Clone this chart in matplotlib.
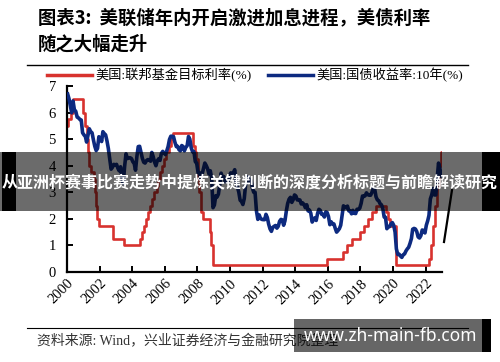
import pandas as pd
import matplotlib.pyplot as plt
import matplotlib.dates as mdates
from matplotlib.patches import Rectangle
from matplotlib.lines import Line2D

plt.rcParams['font.family'] = ['Liberation Serif', 'Noto Sans CJK SC', 'DejaVu Sans']

title_text = "图表3:  美联储年内开启激进加息进程，美债利率\n随之大幅走升"
source_text = "资料来源: Wind，兴业证券经济与金融研究院整理"
banner_text = "从亚洲杯赛事比赛走势中提炼关键判断的深度分析标题与前瞻解读研究"
mark_text = "www.zh-main-fb.com"
fed_label = "美国:联邦基金目标利率(%)"
bond_label = "美国:国债收益率:10年(%)"

# fed funds target rate (upper bound), change dates
fed_dates = ['2000-01-01', '2000-02-02', '2000-03-21', '2000-05-16', '2001-01-03', '2001-01-31',
             '2001-03-20', '2001-04-18', '2001-05-15', '2001-06-27', '2001-08-21', '2001-09-17',
             '2001-10-02', '2001-11-06', '2001-12-11', '2002-11-06', '2003-06-25', '2004-06-30',
             '2004-08-10', '2004-09-21', '2004-11-10', '2004-12-14', '2005-02-02', '2005-03-22',
             '2005-05-03', '2005-06-30', '2005-08-09', '2005-09-20', '2005-11-01', '2005-12-13',
             '2006-01-31', '2006-03-28', '2006-05-10', '2006-06-29', '2007-09-18', '2007-10-31',
             '2007-12-11', '2008-01-22', '2008-01-30', '2008-03-18', '2008-04-30', '2008-10-08',
             '2008-10-29', '2008-12-16', '2015-12-16', '2016-12-14', '2017-03-15', '2017-06-14',
             '2017-12-13', '2018-03-21', '2018-06-13', '2018-09-26', '2018-12-19', '2019-07-31',
             '2019-09-18', '2019-10-30', '2020-03-03', '2020-03-15', '2022-03-16', '2022-05-04',
             '2022-06-15', '2022-07-27', '2022-09-21', '2022-11-02', '2022-12-14', '2022-12-31']
fed_rate = [5.5, 5.75, 6.0, 6.5, 6.0, 5.5,
            5.0, 4.5, 4.0, 3.75, 3.5, 3.0,
            2.5, 2.0, 1.75, 1.25, 1.0, 1.25,
            1.5, 1.75, 2.0, 2.25, 2.5, 2.75,
            3.0, 3.25, 3.5, 3.75, 4.0, 4.25,
            4.5, 4.75, 5.0, 5.25, 4.75, 4.5,
            4.25, 3.5, 3.0, 2.25, 2.0, 1.5,
            1.0, 0.25, 0.5, 0.75, 1.0, 1.25,
            1.5, 1.75, 2.0, 2.25, 2.5, 2.25,
            2.0, 1.75, 1.25, 0.25, 0.5, 1.0,
            1.75, 2.5, 3.25, 4.0, 4.5, 4.5]

# 10y treasury yield, monthly, 2000-01 .. 2022-12
bond_yield = [
    6.70, 6.52, 6.26, 5.99, 6.44, 6.10, 6.05, 5.83, 5.80, 5.74, 5.72, 5.24,
    5.16, 5.10, 4.89, 5.14, 5.39, 5.28, 5.24, 4.97, 4.73, 4.57, 4.65, 5.09,
    5.04, 4.91, 5.28, 5.21, 5.16, 4.93, 4.65, 4.26, 3.87, 3.94, 4.05, 4.03,
    4.05, 3.90, 3.81, 3.96, 3.57, 3.33, 3.98, 4.45, 4.27, 4.29, 4.30, 4.27,
    4.15, 4.08, 3.83, 4.35, 4.72, 4.73, 4.50, 4.28, 4.13, 4.10, 4.19, 4.23,
    4.22, 4.17, 4.50, 4.34, 4.14, 4.00, 4.18, 4.26, 4.20, 4.46, 4.54, 4.47,
    4.42, 4.57, 4.72, 4.99, 5.11, 5.11, 5.09, 4.88, 4.72, 4.73, 4.60, 4.56,
    4.76, 4.72, 4.56, 4.69, 4.75, 5.10, 5.00, 4.67, 4.52, 4.53, 4.15, 4.10,
    3.74, 3.74, 3.51, 3.68, 3.88, 4.10, 4.01, 3.89, 3.69, 3.81, 3.53, 2.42,
    2.52, 2.87, 2.82, 2.93, 3.29, 3.72, 3.56, 3.59, 3.40, 3.39, 3.40, 3.59,
    3.73, 3.69, 3.73, 3.85, 3.42, 3.20, 3.01, 2.70, 2.65, 2.54, 2.76, 3.29,
    3.39, 3.58, 3.41, 3.46, 3.17, 3.00, 3.00, 2.30, 1.98, 2.15, 2.01, 1.98,
    1.97, 1.97, 2.17, 2.05, 1.80, 1.62, 1.53, 1.68, 1.72, 1.75, 1.65, 1.72,
    1.91, 1.98, 1.96, 1.76, 1.93, 2.30, 2.58, 2.74, 2.81, 2.62, 2.72, 2.90,
    2.86, 2.71, 2.72, 2.71, 2.56, 2.60, 2.54, 2.42, 2.53, 2.30, 2.33, 2.21,
    1.88, 1.98, 2.04, 1.94, 2.20, 2.36, 2.32, 2.17, 2.17, 2.07, 2.26, 2.24,
    2.09, 1.78, 1.89, 1.81, 1.81, 1.64, 1.50, 1.56, 1.63, 1.76, 2.14, 2.49,
    2.43, 2.42, 2.48, 2.30, 2.30, 2.19, 2.32, 2.21, 2.20, 2.36, 2.35, 2.40,
    2.58, 2.86, 2.84, 2.87, 2.98, 2.91, 2.89, 2.89, 3.00, 3.15, 3.12, 2.83,
    2.71, 2.68, 2.57, 2.53, 2.40, 2.07, 2.06, 1.63, 1.70, 1.71, 1.81, 1.86,
    1.76, 1.50, 0.87, 0.66, 0.67, 0.60, 0.55, 0.65, 0.68, 0.79, 0.87, 0.93,
    1.08, 1.26, 1.61, 1.64, 1.62, 1.52, 1.32, 1.28, 1.37, 1.58, 1.56, 1.47,
    1.76, 1.93, 2.13, 2.75, 2.90, 3.14, 2.90, 2.90, 3.52, 4.10, 3.89, 3.62,
]
bond_dates = pd.date_range('2000-01-01', periods=len(bond_yield), freq='MS') + pd.Timedelta(days=14)

year_ticks = list(range(2000, 2023, 2))

W, H = 500, 362
fig = plt.figure(figsize=(W / 100, H / 100), dpi=100)
fig.patch.set_facecolor('white')

def fx(px):
    return px / W

def fy(py):
    return 1 - py / H

ax = fig.add_axes([fx(67), fy(272), fx(442) - fx(67), fy(86) - fy(272)])
ax.step(pd.to_datetime(fed_dates), fed_rate, where='post', color='#d8322e', lw=1.9, zorder=2)
ax.plot(bond_dates, bond_yield, color='#0d2a80', lw=2.6, zorder=3)

ax.set_xlim(pd.Timestamp('2000-01-01'), pd.Timestamp('2023-01-01'))
ax.set_ylim(0, 7)
ax.set_yticks(range(0, 8))
ax.set_xticks([pd.Timestamp(f'{y}-01-01') for y in year_ticks])
ax.xaxis.set_major_formatter(mdates.DateFormatter('%Y'))
for s in ['top', 'right']:
    ax.spines[s].set_visible(False)
for s in ['left', 'bottom']:
    ax.spines[s].set_linewidth(1.6)
ax.tick_params(axis='both', direction='in', length=4, width=1.4, labelsize=10.5, colors='black')
ax.tick_params(axis='y', pad=8)
for lab in ax.get_xticklabels():
    lab.set_rotation(45)
    lab.set_ha('right')
    lab.set_va('top')
    lab.set_rotation_mode('anchor')

handles = [Line2D([], [], color='#d8322e', lw=2.5), Line2D([], [], color='#0d2a80', lw=2.5)]
fig.legend(handles, [fed_label, bond_label], loc='center', bbox_to_anchor=(fx(255), fy(75)),
           ncol=2, frameon=False, fontsize=9.5, handlelength=3.4, columnspacing=1.2,
           handletextpad=0.3)

# title and rules
fig.text(fx(38), fy(31), title_text, fontsize=13.2, fontweight='bold', va='center', ha='left',
         linespacing=1.45, family=['Noto Sans CJK SC'])
fig.add_artist(Line2D([fx(27), fx(468)], [fy(65), fy(65)], color='black', lw=1.0))
fig.add_artist(Line2D([fx(27), fx(468)], [fy(328), fy(328)], color='black', lw=0.8))
fig.text(fx(37), fy(341), source_text, fontsize=10, va='center', ha='left', color='#333333',
         family=['Liberation Serif', 'Noto Sans CJK SC'])

# overlay banner
fig.add_artist(Rectangle((0, fy(211)), 1, fy(152) - fy(211), transform=fig.transFigure,
                         facecolor='black', alpha=0.58, edgecolor='none', zorder=10))
fig.add_artist(Rectangle((fx(2), fy(211)), fx(14), fy(152) - fy(211), transform=fig.transFigure,
                         facecolor='black', edgecolor='none', zorder=10))
fig.add_artist(Rectangle((fx(482), fy(211)), fx(18), fy(152) - fy(211), transform=fig.transFigure,
                         facecolor='black', edgecolor='none', zorder=10))
fig.text(0.5, fy(182), banner_text, fontsize=11.5, fontweight='bold', color='white',
         ha='center', va='center', zorder=11, family=['Noto Sans CJK SC'])

# stray stroke
fig.add_artist(Line2D([fx(452), fx(444)], [fy(190), fy(242)], color='black', lw=1.6, zorder=4))

# watermark box
fig.add_artist(Rectangle((fx(294), fy(352)), fx(188), fy(319) - fy(352), transform=fig.transFigure,
                         facecolor='black', alpha=0.6, edgecolor='none', zorder=10))
fig.add_artist(Rectangle((fx(482), fy(352)), fx(9), fy(319) - fy(352), transform=fig.transFigure,
                         facecolor='black', edgecolor='none', zorder=10))
fig.text(fx(391), fy(336), mark_text, fontsize=12.5, fontweight='bold', color='white',
         ha='center', va='center', zorder=11, family=['Noto Sans', 'DejaVu Sans'])

fig.savefig('out.png', dpi=100)
